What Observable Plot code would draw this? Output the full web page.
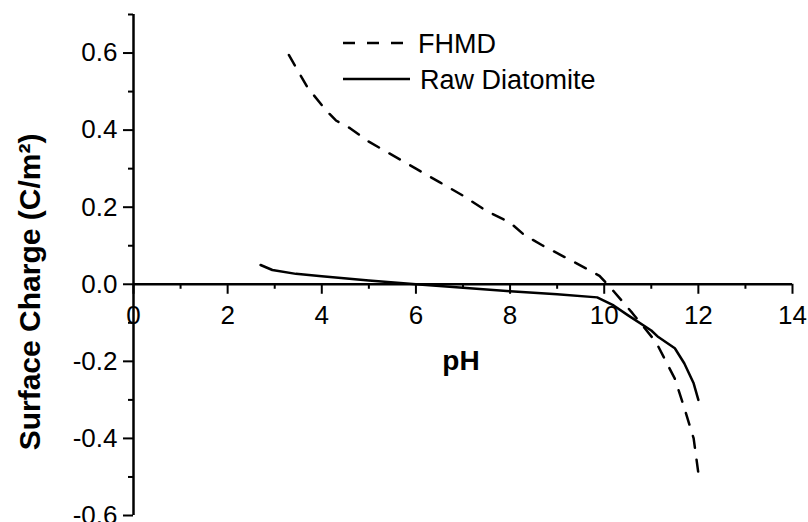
<!DOCTYPE html>
<html>
<head>
<meta charset="utf-8">
<script src="https://cdn.jsdelivr.net/npm/d3@7"></script>
<script src="https://cdn.jsdelivr.net/npm/@observablehq/plot@0.6"></script>
<style>
  body { margin: 0; background: #fff; }
  #chart { position: relative; width: 808px; height: 522px; overflow: hidden; }
</style>
</head>
<body>
<div id="chart"></div>
<script>
// Surface charge vs pH for FHMD and raw diatomite
const fhmdPH = [3.3, 3.7, 4.1, 4.3, 4.6, 5.0, 5.5, 6.0, 6.5, 7.0, 7.5, 8.0, 8.3, 8.7, 9.2, 9.6, 9.9, 10.2, 10.6, 11.1, 11.5, 11.7, 11.9, 12.0];
const fhmdCharge = [0.595, 0.51, 0.45, 0.425, 0.405, 0.37, 0.335, 0.30, 0.265, 0.23, 0.19, 0.16, 0.128, 0.10, 0.068, 0.042, 0.022, -0.018, -0.075, -0.15, -0.245, -0.32, -0.40, -0.49];

const rawPH = [2.7, 2.95, 3.45, 4.0, 5.0, 6.0, 7.0, 8.0, 9.0, 9.85, 10.2, 10.5, 11.0, 11.15, 11.5, 11.7, 11.9, 12.0];
const rawCharge = [0.05, 0.037, 0.027, 0.021, 0.01, 0.0, -0.009, -0.018, -0.026, -0.034, -0.055, -0.08, -0.12, -0.137, -0.166, -0.205, -0.257, -0.30];

const seriesNames = ["FHMD", "Raw Diatomite"];

// axis ticks
const xMajor = [0, 2, 4, 6, 8, 10, 12, 14];
const xMinor = [1, 3, 5, 7, 9, 11, 13];
const yMajor = [-0.6, -0.4, -0.2, 0.0, 0.2, 0.4, 0.6];
const yMinor = [-0.5, -0.3, -0.1, 0.1, 0.3, 0.5, 0.7];

const xTitle = "pH";
const yTitle = "Surface Charge (C/m\u00B2)";

const fhmd = fhmdPH.map((x, i) => ({x, y: fhmdCharge[i]}));
const raw = rawPH.map((x, i) => ({x, y: rawCharge[i]}));

const font = "'Liberation Sans', Arial, sans-serif";

const chart = Plot.plot({
  width: 808,
  height: 522,
  marginLeft: 133,
  marginRight: 16,
  marginTop: 14,
  marginBottom: 7,
  style: {
    fontFamily: font,
    fontSize: "26px",
    color: "#000",
    background: "#fff",
    overflow: "visible"
  },
  x: {domain: [0, 14], axis: null},
  y: {domain: [-0.6, 0.7], axis: null},
  marks: [
    // axis lines crossing at the origin
    Plot.ruleX([0], {stroke: "#000", strokeWidth: 2.5}),
    Plot.ruleY([0], {stroke: "#000", strokeWidth: 2.5}),
    // y ticks pointing left
    Plot.ruleY(yMajor, {y: d => d, x1: 0, x2: 0, insetLeft: -10, stroke: "#000", strokeWidth: 2}),
    Plot.ruleY(yMinor, {y: d => d, x1: 0, x2: 0, insetLeft: -5, stroke: "#000", strokeWidth: 2}),
    // x ticks hanging below the zero line
    Plot.ruleX(xMajor, {x: d => d, y1: 0, y2: 0, insetBottom: -10, stroke: "#000", strokeWidth: 2}),
    Plot.ruleX(xMinor, {x: d => d, y1: 0, y2: 0, insetBottom: -5, stroke: "#000", strokeWidth: 2}),
    // tick labels
    Plot.text(yMajor, {x: d => 0, y: d => d, text: d => d.toFixed(1), textAnchor: "end", dx: -16, fontSize: 26, fill: "#000"}),
    Plot.text(xMajor, {x: d => d, y: d => 0, text: d => String(d), dy: 31, fontSize: 26, fill: "#000"}),
    // axis titles
    Plot.text([xTitle], {frameAnchor: "middle", textAnchor: "middle", dx: -2, dy: 96, fontWeight: "bold", fontSize: 28, fill: "#000"}),
    Plot.text([yTitle], {frameAnchor: "left", textAnchor: "middle", rotate: -90, dx: -103, dy: 27, fontWeight: "bold", fontSize: 30, fill: "#000"}),
    // series
    Plot.line(fhmd, {x: "x", y: "y", stroke: "#000", strokeWidth: 2.5, strokeDasharray: "12,12"}),
    Plot.line(raw, {x: "x", y: "y", stroke: "#000", strokeWidth: 2.5})
  ]
});

// legend inside the plot area, upper middle
const legend = d3.select(chart).append("g")
  .attr("font-family", font)
  .attr("fill", "#000");
const entries = [
  {name: seriesNames[0], dash: "12,12", y: 43, x2: 403, tx: 418},
  {name: seriesNames[1], dash: null, y: 79, x2: 410, tx: 420}
];
for (const e of entries) {
  legend.append("line")
    .attr("x1", 343).attr("x2", e.x2)
    .attr("y1", e.y).attr("y2", e.y)
    .attr("stroke", "#000").attr("stroke-width", 2.5)
    .attr("stroke-dasharray", e.dash);
  legend.append("text")
    .attr("x", e.tx).attr("y", e.y + 9.5)
    .attr("text-anchor", "start")
    .style("font-size", "27px")
    .text(e.name);
}

document.getElementById("chart").appendChild(chart);
</script>
</body>
</html>
